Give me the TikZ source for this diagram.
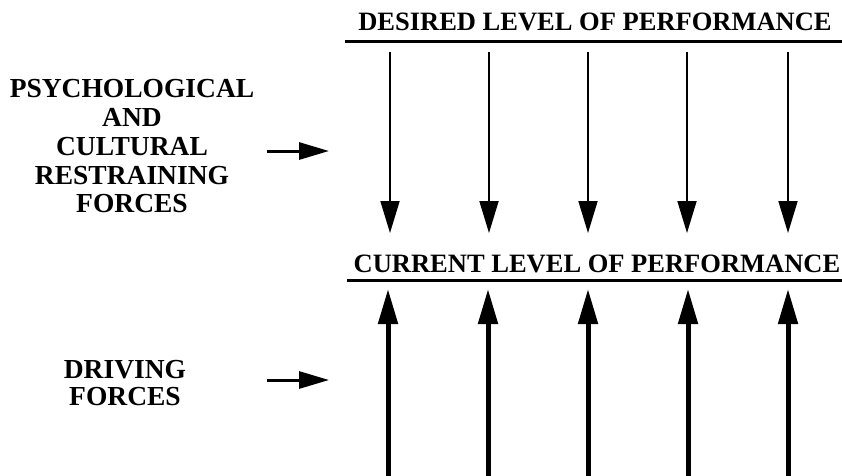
\documentclass[tikz,border=0pt]{standalone}
\usepackage{fontspec}
\setmainfont{Liberation Serif}
\usetikzlibrary{arrows.meta}
\begin{document}
\begin{tikzpicture}[x=1pt,y=-1pt,
  head/.style={font=\fontsize{26.5}{28}\selectfont\bfseries, inner sep=0pt, anchor=base},
  side/.style={font=\fontsize{27.5}{28.7}\selectfont\bfseries, inner sep=0pt, align=center, anchor=base},
  rule/.style={line width=3pt},
  downarrow/.style={line width=1.8pt, -{Triangle[length=32pt,width=19pt]}},
  uparrow/.style={line width=5pt, -{Triangle[length=35pt,width=19pt]}},
  smallarrow/.style={line width=3pt, -{Triangle[length=30pt,width=17pt]}}]
\useasboundingbox[fill=white] (0,0) rectangle (842,475);
% headings
\node[head] (desired) at (595,30) {DESIRED LEVEL OF PERFORMANCE};
\node[head] (current) at (597,272) {CURRENT LEVEL OF PERFORMANCE};
\coordinate (dl) at (345,41); \coordinate (dr) at (842,41);
\coordinate (cl) at (347,280); \coordinate (cr) at (842,280);
\draw[rule] (dl) -- (dr);
\draw[rule] (cl) -- (cr);
% side labels
\node[side] (psy) at (132,97) {PSYCHOLOGICAL};
\node[side] (and) at (132,126) {AND};
\node[side] (cul) at (132,155) {CULTURAL};
\node[side] (res) at (132,184) {RESTRAINING};
\node[side] (frc) at (132,212) {FORCES};
\node[side] (drv) at (125,378) {DRIVING};
\node[side] (frc2) at (125,405) {FORCES};
% small arrows
\coordinate (s1a) at (267,151); \coordinate (s1b) at (329,151);
\coordinate (s2a) at (267,380); \coordinate (s2b) at (329,380);
\draw[smallarrow] (s1a) -- (s1b);
\draw[smallarrow] (s2a) -- (s2b);
% vertical arrows
\foreach \i/\x in {1/390,2/489,3/588,4/687,5/788}{
  \coordinate (dt\i) at (\x,52);
  \coordinate (db\i) at (\x,233);
  \draw[downarrow] (dt\i) -- (db\i);
}
\foreach \i/\x in {1/388,2/488,3/588,4/688,5/788}{
  \coordinate (ub\i) at (\x,476);
  \coordinate (ut\i) at (\x,289);
  \draw[uparrow] (ub\i) -- (ut\i);
}
\end{tikzpicture}
\end{document}
